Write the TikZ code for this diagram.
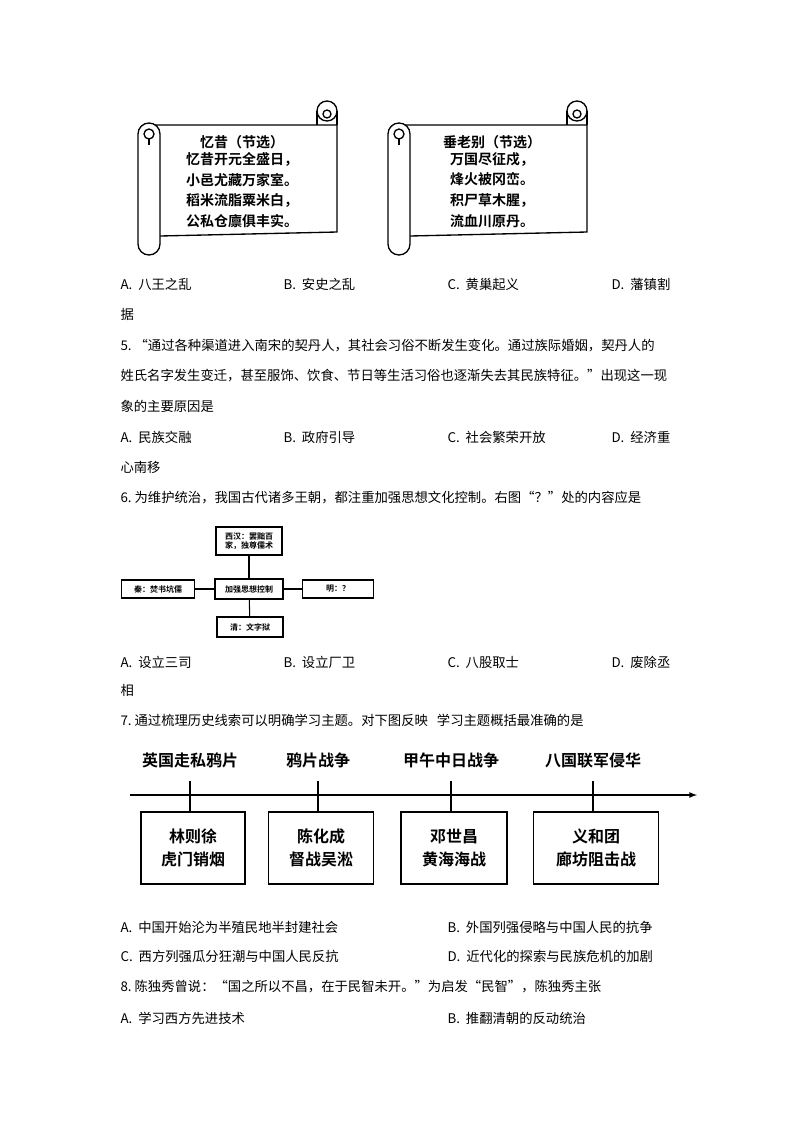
\documentclass[tikz,border=0pt]{standalone}
\usepackage{fontspec}
\setmainfont{Noto Sans CJK SC}
\newfontfamily\cjkb{Noto Sans CJK SC Bold}
\begin{document}
\begin{tikzpicture}[x=0.75pt, y=-0.75pt, line width=0.8pt,
    txt/.style={anchor=west, inner sep=0pt, font=\fontsize{10}{12}\selectfont},
    mapbox/.style={draw, line width=1pt, inner sep=2pt, font=\cjkb\fontsize{6}{7}\selectfont, align=center},
    evbox/.style={draw, line width=1.2pt, align=center, font=\cjkb\fontsize{12}{17}\selectfont},
    evlabel/.style={font=\cjkb\fontsize{12}{14}\selectfont}]
    \useasboundingbox (0,0) rectangle (800,1132);

    % draw scrolls
    \foreach \dx/\title/\la/\lb/\lc/\ld in {0/忆昔（节选）/忆昔开元全盛日，/小邑尤藏万家室。/稻米流脂粟米白，/公私仓廪俱丰实。,
        250/垂老别（节选）/万国尽征戍，/烽火被冈峦。/积尸草木腥，/流血川原丹。} {
      \begin{scope}[xshift=\dx*0.75pt]
        \draw[line width=1pt] (150,125) -- (337,125) -- (337,232) -- (160,236);
        \draw[line width=1pt, fill=white] (327,111) circle (10);
        \draw[line width=1pt] (327,114) circle (4);
        \draw[line width=1pt] (317,111) -- (317,125);
        \draw[line width=1pt] (337,111) -- (337,125);
        \draw[line width=1pt, fill=white] (138,134) arc (180:360:11) -- (160,244) arc (0:180:11) -- cycle;
        \draw[line width=1pt] (149,134) circle (5);
        \draw[line width=1pt] (149,145) -- (149,139);
        \node[font=\cjkb\fontsize{10.5}{12}\selectfont] (t\dx) at (242,142) {\title};
        \node[font=\cjkb\fontsize{10.5}{15.5}\selectfont, align=left] (v\dx) at (242,190) {\la\\\lb\\\lc\\\ld};
      \end{scope}
    }

    % options question 4
    \node[txt] (o4a) at (120,284) {A.\ \ 八王之乱};
    \node[txt] (o4b) at (283,284) {B.\ \ 安史之乱};
    \node[txt] (o4c) at (447,284) {C.\ \ 黄巢起义};
    \node[txt] (o4d) at (611,284) {D.\ \ 藩镇割};
    \node[txt] (o4e) at (120,314) {据};

    % question 5
    \node[txt] (q5a) at (120,346) {5.\ “通过各种渠道进入南宋的契丹人，其社会习俗不断发生变化。通过族际婚姻，契丹人的};
    \node[txt] (q5b) at (120,376) {姓氏名字发生变迁，甚至服饰、饮食、节日等生活习俗也逐渐失去其民族特征。”出现这一现};
    \node[txt] (q5c) at (120,406) {象的主要原因是};
    \node[txt] (o5a) at (120,437) {A.\ \ 民族交融};
    \node[txt] (o5b) at (283,437) {B.\ \ 政府引导};
    \node[txt] (o5c) at (447,437) {C.\ \ 社会繁荣开放};
    \node[txt] (o5d) at (611,437) {D.\ \ 经济重};
    \node[txt] (o5e) at (120,467) {心南移};

    % question 6
    \node[txt] (q6) at (120,498) {6.\ 为维护统治，我国古代诸多王朝，都注重加强思想文化控制。右图“？”处的内容应是};
    \node[mapbox, minimum width=68*0.75pt, minimum height=20*0.75pt] (ctr) at (249,589) {加强思想控制};
    \node[mapbox, minimum width=66*0.75pt, minimum height=28*0.75pt, align=left] (west) at (249,541) {西汉：罢黜百\\家，独尊儒术};
    \node[mapbox, minimum width=73*0.75pt, minimum height=18*0.75pt] (qin) at (158,589) {秦：焚书坑儒};
    \node[mapbox, minimum width=71*0.75pt, minimum height=18*0.75pt] (ming) at (338,589) {明：？};
    \node[mapbox, minimum width=66*0.75pt, minimum height=20*0.75pt] (qing) at (250,627) {清：文字狱};
    \draw (ctr) -- (west);
    \draw (ctr) -- (qin);
    \draw (ctr) -- (ming);
    \draw (ctr) -- (qing);
    \node[txt] (o6a) at (120,662) {A.\ \ 设立三司};
    \node[txt] (o6b) at (283,662) {B.\ \ 设立厂卫};
    \node[txt] (o6c) at (447,662) {C.\ \ 八股取士};
    \node[txt] (o6d) at (611,662) {D.\ \ 废除丞};
    \node[txt] (o6e) at (120,690) {相};

    % question 7 timeline
    \node[txt] (q7) at (120,720) {7.\ 通过梳理历史线索可以明确学习主题。对下图反映\ \ \ 学习主题概括最准确的是};
    \coordinate (tl0) at (130,795);
    \coordinate (tl1) at (697,795);
    \draw[-latex, line width=1pt] (tl0) -- (tl1);
    \foreach \n/\x/\lab/\bw/\ta/\tb in {1/190/英国走私鸦片/104/林则徐/虎门销烟,
        2/318/鸦片战争/105/陈化成/督战吴淞,
        3/451/甲午中日战争/106/邓世昌/黄海海战,
        4/593/八国联军侵华/125/义和团/廊坊阻击战} {
      \node[evlabel] (lab\n) at (\x,760) {\lab};
      \node[evbox, minimum width=\bw*0.75pt, minimum height=72*0.75pt] (ev\n) at (\x+3,848) {\ta\\\tb};
      \coordinate (tk\n) at (\x,781);
      \draw[line width=1pt] (tk\n) -- (tk\n |- ev\n.north);
    }
    \node[txt] (o7a) at (120,927) {A.\ \ 中国开始沦为半殖民地半封建社会};
    \node[txt] (o7b) at (447,927) {B.\ \ 外国列强侵略与中国人民的抗争};
    \node[txt] (o7c) at (120,956) {C.\ \ 西方列强瓜分狂潮与中国人民反抗};
    \node[txt] (o7d) at (447,956) {D.\ \ 近代化的探索与民族危机的加剧};

    % question 8
    \node[txt] (q8) at (120,987) {8.\ 陈独秀曾说：“国之所以不昌，在于民智未开。”为启发“民智”，陈独秀主张};
    \node[txt] (o8a) at (120,1018) {A.\ \ 学习西方先进技术};
    \node[txt] (o8b) at (447,1018) {B.\ \ 推翻清朝的反动统治};
\end{tikzpicture}
\end{document}
